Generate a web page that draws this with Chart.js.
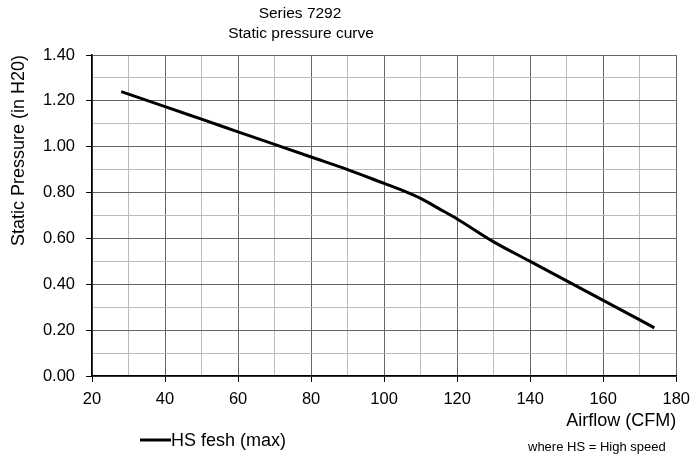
<!DOCTYPE html>
<html>
<head>
<meta charset="utf-8">
<script src="https://cdn.jsdelivr.net/npm/chart.js@4"></script>
<style>
  html, body { margin: 0; padding: 0; background: #fff; }
  #wrap { width: 698px; height: 457px; }
</style>
</head>
<body>
<div id="wrap"><canvas id="c"></canvas></div>
<script>
// airflow (CFM) and static pressure (in H2O)
const airflow = [28, 40, 50, 60, 70, 80, 90, 100, 105, 110, 115, 120, 130, 140, 150, 160, 170, 174];
const pressure = [1.24, 1.175, 1.12, 1.065, 1.01, 0.955, 0.90, 0.84, 0.81, 0.775, 0.73, 0.685, 0.585, 0.50, 0.415, 0.33, 0.245, 0.21];
const titleLines = ["Series 7292", "Static pressure curve"];
const seriesName = "HS fesh (max)";
const footnote = "where HS = High speed";

const pts = airflow.map((x, i) => ({x: x, y: pressure[i]}));
const FONT = "'Liberation Sans', Arial, sans-serif";

// title (sits left of centre in the original), legend and footnote
const extraText = {
    id: "extraText",
    afterDraw(chart){
        const ctx = chart.ctx;
        ctx.save();
        ctx.fillStyle = "#000";
        ctx.textBaseline = "middle";
        ctx.textAlign = "center";
        ctx.font = "15.5px " + FONT;
        ctx.fillText(titleLines[0], 300, 14);
        ctx.fillText(titleLines[1], 301, 34);

        ctx.strokeStyle = "#000";
        ctx.lineWidth = 3;
        ctx.beginPath();
        ctx.moveTo(140, 440);
        ctx.lineTo(171, 440);
        ctx.stroke();
        ctx.textAlign = "left";
        ctx.font = "18px " + FONT;
        ctx.fillText(chart.data.datasets[0].label, 171, 441);
        ctx.font = "13px " + FONT;
        ctx.fillText(footnote, 528, 447);
        ctx.restore();
    }
};

const major = (c, step) => c.tick && Math.round(c.tick.value * 100) % Math.round(step * 100) === 0;

new Chart(document.getElementById("c"), {
    type: "line",
    data: {
        datasets: [{
            label: seriesName,
            data: pts,
            borderColor: "#000",
            borderWidth: 3,
            pointRadius: 0,
            cubicInterpolationMode: "monotone",
            fill: false
        }]
    },
    options: {
        responsive: true,
        maintainAspectRatio: false,
        animation: false,
        layout: { padding: { top: 55, right: 18, bottom: 25, left: 0 } },
        plugins: {
            legend: { display: false },
            tooltip: { enabled: false },
            title: { display: false }
        },
        scales: {
            x: {
                type: "linear",
                min: 20,
                max: 180,
                afterFit: (s) => { s.height = 56; },
                ticks: {
                    stepSize: 10,
                    color: "#000",
                    font: { family: FONT, size: 16.5 },
                    maxRotation: 0,
                    autoSkip: false,
                    padding: 8,
                    callback: (v) => (v % 20 === 0 ? v : "")
                },
                grid: {
                    color: (c) => (major(c, 20) ? "#666" : "#bbb"),
                    tickColor: (c) => (major(c, 20) ? "#000" : "rgba(0,0,0,0)"),
                    tickLength: 6,
                    lineWidth: 1
                },
                border: { color: "#000", width: 1.5 },
                title: {
                    display: true,
                    text: "Airflow (CFM)",
                    align: "end",
                    color: "#000",
                    font: { family: FONT, size: 18 },
                    padding: { top: 0, bottom: 0 }
                }
            },
            y: {
                min: 0,
                max: 1.4,
                afterFit: (s) => { s.width = 92; },
                ticks: {
                    stepSize: 0.1,
                    color: "#000",
                    font: { family: FONT, size: 16.5 },
                    autoSkip: false,
                    padding: 11,
                    callback: (v) => (Math.round(v * 10) % 2 === 0 ? v.toFixed(2) : "")
                },
                grid: {
                    color: (c) => (major(c, 0.2) ? "#666" : "#bbb"),
                    tickColor: (c) => (major(c, 0.2) ? "#000" : "rgba(0,0,0,0)"),
                    tickLength: 6,
                    lineWidth: 1
                },
                border: { color: "#000", width: 1.5 },
                title: {
                    display: true,
                    text: "Static Pressure (in H20)",
                    align: "end",
                    color: "#000",
                    font: { family: FONT, size: 18 },
                    padding: { top: 8, bottom: 0 }
                }
            }
        }
    },
    plugins: [extraText]
});
</script>
</body>
</html>
